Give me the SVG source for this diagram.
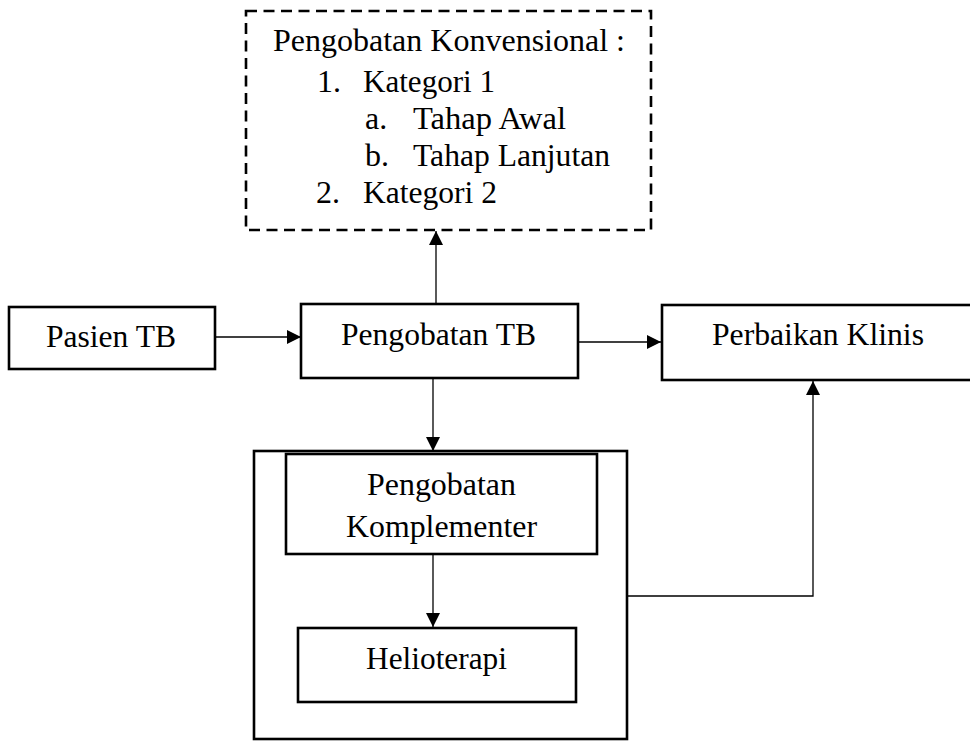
<svg xmlns="http://www.w3.org/2000/svg" width="970" height="741" viewBox="0 0 970 741">
<style>
.box{fill:none;stroke:#000;stroke-width:2.6}
.dash{fill:none;stroke:#000;stroke-width:2.6;stroke-dasharray:11 6.5}
.t{font-family:"Liberation Serif","Times New Roman",Times,serif;font-size:32px;fill:#000}
.c{fill:none;stroke:#000;stroke-width:1.3}
.ce{marker-end:url(#ah)}
</style>
<defs>
<marker id="ah" markerUnits="userSpaceOnUse" markerWidth="16" markerHeight="16" refX="14" refY="7" orient="auto">
<path d="M0,0 L14,7 L0,14 z" fill="#000"/>
</marker>
</defs>
<rect width="970" height="741" fill="#fff"/>
<g id="konvensional">
<rect class="dash" x="246" y="11" width="405" height="219"/>
<text class="t" x="273" y="51" textLength="352" lengthAdjust="spacingAndGlyphs">Pengobatan Konvensional :</text>
<text class="t" x="317" y="92">1.</text>
<text class="t" x="363" y="92" textLength="132" lengthAdjust="spacingAndGlyphs">Kategori 1</text>
<text class="t" x="365" y="129">a.</text>
<text class="t" x="413" y="129" textLength="153" lengthAdjust="spacingAndGlyphs">Tahap Awal</text>
<text class="t" x="365" y="166">b.</text>
<text class="t" x="413" y="166" textLength="197" lengthAdjust="spacingAndGlyphs">Tahap Lanjutan</text>
<text class="t" x="316" y="203">2.</text>
<text class="t" x="363" y="203" textLength="134" lengthAdjust="spacingAndGlyphs">Kategori 2</text>
</g>
<g id="pasien">
<rect class="box" x="9" y="307" width="206" height="62"/>
<text class="t" x="46" y="347" textLength="130" lengthAdjust="spacingAndGlyphs">Pasien TB</text>
</g>
<g id="pengobatan-tb">
<rect class="box" x="301" y="304" width="277" height="74"/>
<text class="t" x="341" y="345" textLength="195" lengthAdjust="spacingAndGlyphs">Pengobatan TB</text>
</g>
<g id="perbaikan">
<rect class="box" x="662" y="305" width="312" height="75"/>
<text class="t" x="712" y="345" textLength="212" lengthAdjust="spacingAndGlyphs">Perbaikan Klinis</text>
</g>
<g id="outer">
<rect class="box" x="254" y="451" width="373" height="288"/>
</g>
<g id="komplementer">
<rect class="box" x="286" y="454" width="311" height="100"/>
<text class="t" x="367" y="495" textLength="149" lengthAdjust="spacingAndGlyphs">Pengobatan</text>
<text class="t" x="346" y="537" textLength="191" lengthAdjust="spacingAndGlyphs">Komplementer</text>
</g>
<g id="helioterapi">
<rect class="box" x="298" y="628" width="278" height="74"/>
<text class="t" x="366" y="669" textLength="141" lengthAdjust="spacingAndGlyphs">Helioterapi</text>
</g>
<g id="connectors">
<line class="c ce" x1="216" y1="337" x2="301" y2="337"/>
<line class="c ce" x1="436" y1="304" x2="436" y2="231"/>
<line class="c ce" x1="579" y1="342" x2="661" y2="342"/>
<line class="c ce" x1="433" y1="379" x2="433" y2="451"/>
<line class="c ce" x1="433" y1="555" x2="433" y2="627"/>
<polyline class="c ce" points="628,596 813,596 813,381"/>
</g>
</svg>
